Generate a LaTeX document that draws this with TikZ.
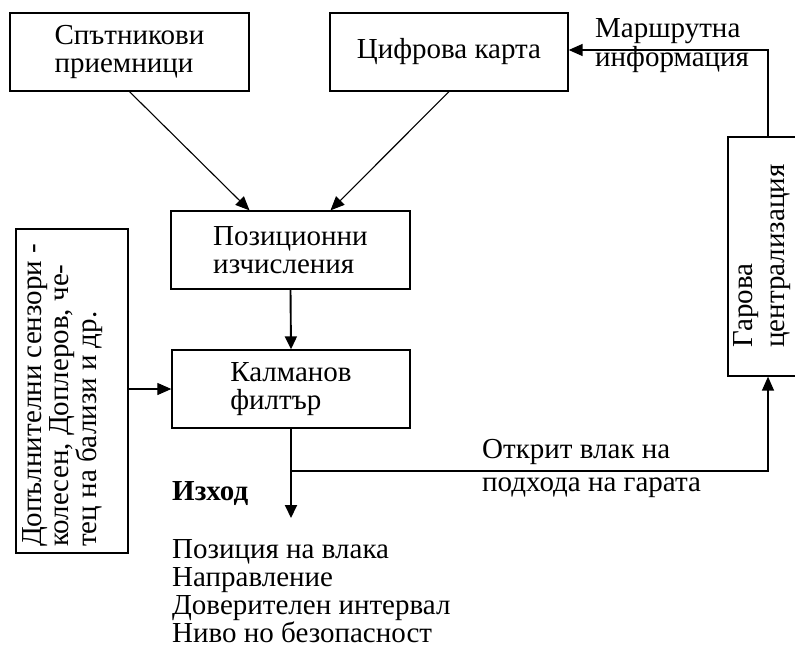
\documentclass[tikz,border=0pt]{standalone}
\usepackage{fontspec}
\setmainfont{Liberation Serif}
\usetikzlibrary{arrows.meta}

\begin{document}
\begin{tikzpicture}[x=1pt,y=-1pt,
  t/.style={inner sep=0pt,align=left,font=\fontsize{29}{27.5}\selectfont},
  b/.style={t,draw,line width=1.3pt},
  a/.style={-{Triangle[length=13pt,width=12pt]},line width=1.9pt},
  d/.style={-{Triangle[length=14pt,width=12pt]},line width=1.1pt}]
\useasboundingbox (0,0) rectangle (795,655);

\node[b,minimum width=239pt,minimum height=78pt] (sat) at (129.5,52) {Спътникови\\приемници};
\node[b,minimum width=238pt,minimum height=78pt] (map) at (449,52) {Цифрова карта};
\node[b,minimum width=239pt,minimum height=78pt] (poz) at (290.5,250) {Позиционни\\изчисления};
\node[b,minimum width=238pt,minimum height=78pt] (kal) at (291,389) {Калманов\\филтър};
\node[b,minimum width=112pt,minimum height=324pt] (sens) at (72,391) {};
\node[b,minimum width=70pt,minimum height=239pt] (gar) at (763,256.5) {};

\node[t,rotate=90,anchor=north west] (senst) at (22,547) {Допълнителни сензори -\\колесен, Доплеров, че-\\тец на бализи и др.};
\node[t,rotate=90,anchor=north west] (gart) at (733,348) {Гарова\\[5pt]централизация};

\coordinate (tr) at (768,50);
\coordinate (br) at (768,471);
\coordinate (tip) at (291,518);

\draw[d] (sat.south) -- ([xshift=-41pt]poz.north);
\draw[d] (map.south) -- ([xshift=40pt]poz.north);
\draw[a] (poz.south) -- (kal.north);
\draw[d] (sens.east |- kal.west) -- (kal.west);
\draw[a] (kal.south) -- (tip);
\draw[d,line width=1.4pt] (kal.south |- br) -- (br) -- (gar.south -| br);
\draw[d,line width=1.4pt] (gar.north -| tr) -- (tr) -- (map.east |- tr);

\node[t,anchor=base west] (route) at (595,67) {Маршрутна\\[1.5pt]информация};
\node[t,anchor=base west] (found) at (482,491) {Открит влак на\\[5pt]подхода на гарата};
\node[t,anchor=base west] (izh) at (172,500) {\bfseries Изход};
\node[t,anchor=base west] (out) at (172,642) {Позиция на влака\\[0.5pt]Направление\\[0.5pt]Доверителен интервал\\[0.5pt]Ниво но безопасност};
\end{tikzpicture}
\end{document}
